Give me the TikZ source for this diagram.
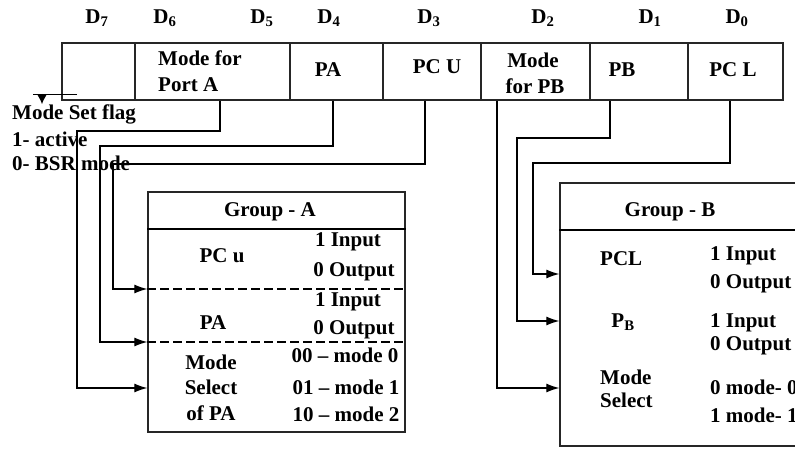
\documentclass[tikz,border=0pt]{standalone}
\usepackage{fontspec}
\setmainfont{Liberation Serif}
\usetikzlibrary{arrows.meta}
\begin{document}
\begin{tikzpicture}[x=1pt,y=-1pt,
  font=\fontsize{21}{25}\selectfont\bfseries,
  reg/.style={draw=black!85, line width=1.3pt, minimum height=57pt, inner sep=0pt},
  lbl/.style={inner sep=0pt},
  conn/.style={line width=1.2pt, -{Latex[length=13pt,width=9pt]}},
  box/.style={draw=black!85, line width=1.3pt, inner sep=0pt},
  sep/.style={line width=1.4pt, dash pattern=on 9pt off 4pt}]
\useasboundingbox (0,0) rectangle (795,454);
% register
\node[reg, minimum width=73pt]  (c7)  at (98.5,71.5) {};
\node[reg, minimum width=155pt] (c65) at (212.5,71.5) {};
\node[reg, minimum width=93pt]  (c4)  at (336.5,71.5) {};
\node[reg, minimum width=98pt]  (c3)  at (432,71.5) {};
\node[reg, minimum width=109pt] (c2)  at (535.5,71.5) {};
\node[reg, minimum width=98pt]  (c1)  at (639,71.5) {};
\node[reg, minimum width=95pt]  (c0)  at (735.5,71.5) {};
% bit labels
\node[lbl] (d7) at (97,18) {D\textsubscript{7}};
\node[lbl] (d6) at (165,18) {D\textsubscript{6}};
\node[lbl] (d5) at (262,18) {D\textsubscript{5}};
\node[lbl] (d4) at (329,18) {D\textsubscript{4}};
\node[lbl] (d3) at (429,18) {D\textsubscript{3}};
\node[lbl] (d2) at (543,18) {D\textsubscript{2}};
\node[lbl] (d1) at (650,18) {D\textsubscript{1}};
\node[lbl] (d0) at (737,18) {D\textsubscript{0}};
% cell texts
\node[lbl, anchor=west] (tma1) at (158,58) {Mode for};
\node[lbl, anchor=west] (tma2) at (158,85) {Port A};
\node[lbl] (tpa) at (328,70) {PA};
\node[lbl] (tpcu) at (437,67) {PC U};
\node[lbl] (tmb1) at (533,60) {Mode};
\node[lbl] (tmb2) at (535,86) {for PB};
\node[lbl] (tpb) at (622,70) {PB};
\node[lbl] (tpcl) at (733,70) {PC L};
% mode set flag
\node[lbl, anchor=west] (msf) at (12,114) {Mode Set flag};
\node[lbl, anchor=west] (act) at (12,139) {1- active};
\node[lbl, anchor=west] (bsr) at (12,163) {0- BSR mode};
\coordinate (mf1) at (77,94);
\coordinate (mf2) at (33,94);
\coordinate (mf3) at (42,94);
\draw[line width=0.9pt] (mf1) -- (mf2);
\draw[line width=0.9pt, -{Latex[length=9pt,width=9pt]}] (mf3) -- (mf3 |- msf.north);
% Group A
\node[box, minimum width=257pt, minimum height=240pt] (gA) at (276.5,312) {};
\draw[line width=1.3pt] (gA.west |- 0,229) -- (gA.east |- 0,229);
\draw[sep] (gA.west |- 0,289) -- (gA.east |- 0,289);
\draw[sep] (gA.west |- 0,342) -- (gA.east |- 0,342);
\node[lbl] (ga) at (270,212) {Group - A};
\node[lbl] (apcu) at (222,256) {PC u};
\node[lbl] (apa) at (213,323) {PA};
\node[lbl] (am1) at (211,362) {Mode};
\node[lbl] (am2) at (211,387) {Select};
\node[lbl] (am3) at (211,413) {of PA};
\node[lbl] (ai1) at (348,242) {1 Input};
\node[lbl] (ao1) at (354,272) {0 Output};
\node[lbl] (ai2) at (348,302) {1 Input};
\node[lbl] (ao2) at (354,330) {0 Output};
\node[lbl] (amo0) at (345,355) {00 -- mode 0};
\node[lbl] (amo1) at (346,387) {01 -- mode 1};
\node[lbl] (amo2) at (346,414) {10 -- mode 2};
% Group B
\begin{scope}
\clip (0,0) rectangle (795,454);
\node[box, minimum width=270pt, minimum height=263pt] (gB) at (695,314.5) {};
\draw[line width=1.3pt] (gB.west |- 0,230) -- (gB.east |- 0,230);
\node[lbl] (gb) at (670,212) {Group - B};
\node[lbl, anchor=west] (bpcl) at (600,259) {PCL};
\node[lbl] (bpb) at (623,322) {P\textsubscript{B}};
\node[lbl, anchor=west] (bm1) at (600,377) {Mode};
\node[lbl, anchor=west] (bm2) at (600,400) {Select};
\node[lbl, anchor=west] (bi1) at (710,256) {1 Input};
\node[lbl, anchor=west] (bo1) at (710,284) {0 Output};
\node[lbl, anchor=west] (bi2) at (710,323) {1 Input};
\node[lbl, anchor=west] (bo2) at (710,346) {0 Output};
\node[lbl, anchor=west] (bmo0) at (710,387) {0 mode- 0};
\node[lbl, anchor=west] (bmo1) at (710,415) {1 mode- 1};
\end{scope}
% connectors to Group A
\draw[conn] (c65.south -| 220,0) -- (220,131) -- (77,131) -- (77,388) -- (gA.west |- 0,388);
\draw[conn] (c4.south -| 333,0) -- (333,146) -- (100,146) -- (100,342) -- (gA.west |- 0,342);
\draw[conn] (c3.south -| 425,0) -- (425,164) -- (113,164) -- (113,289) -- (gA.west |- 0,289);
% connectors to Group B
\draw[conn] (c2.south -| 497,0) -- (497,388) -- (gB.west |- 0,388);
\draw[conn] (c1.south -| 610,0) -- (610,138) -- (517,138) -- (517,321) -- (gB.west |- 0,321);
\draw[conn] (c0.south -| 730,0) -- (730,163) -- (533,163) -- (533,274) -- (gB.west |- 0,274);
\end{tikzpicture}
\end{document}
